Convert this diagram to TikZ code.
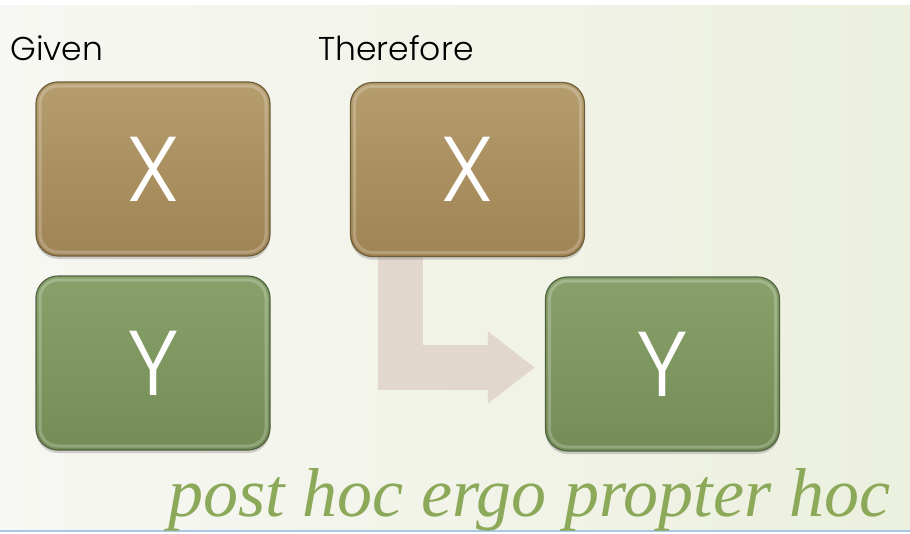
\documentclass[tikz,border=0pt]{standalone}
\usepackage{fontspec}
\setmainfont{Liberation Serif}
\newfontfamily\boxfont{Poppins Light}
\usetikzlibrary{shadows,calc,arrows.meta}
\definecolor{bgL}{HTML}{F7F7F3}
\definecolor{bgR}{HTML}{ECF0DE}
\definecolor{brT}{HTML}{B59D6E}
\definecolor{brB}{HTML}{A08455}
\definecolor{brD}{HTML}{6E5D3A}
\definecolor{grT}{HTML}{88A16B}
\definecolor{grB}{HTML}{748C56}
\definecolor{grD}{HTML}{506240}
\definecolor{arrowc}{HTML}{E1D7CC}
\definecolor{ptxt}{HTML}{8CA95A}
\definecolor{lineblue}{HTML}{A9C8E6}
\pgfdeclarelayer{bg}
\pgfdeclarelayer{background}
\pgfsetlayers{bg,background,main}
\tikzset{
  box/.style={rectangle, rounded corners=22pt, minimum width=234pt, minimum height=174pt,
    inner sep=0pt, text=white, font=\boxfont\fontsize{92}{92}\selectfont, line width=1.2pt,
    drop shadow={opacity=0.35, shadow xshift=0pt, shadow yshift=-3pt},
    path picture={\draw[white, opacity=0.22, line width=3pt, rounded corners=18pt]
      ($(path picture bounding box.north west)+(4,4)$) rectangle
      ($(path picture bounding box.south east)+(-4,-4)$);}},
  xbox/.style={box, top color=brT, bottom color=brB, draw=brD},
  ybox/.style={box, top color=grT, bottom color=grB, draw=grD},
  lbl/.style={anchor=base west, inner sep=0pt, font=\boxfont\fontsize{33}{33}\selectfont, text=black},
  bigarrow/.style={draw=arrowc, line width=45pt, -{Triangle[width=69pt,length=47pt]}}
}
\begin{document}
\begin{tikzpicture}[x=1pt,y=-1pt]
\useasboundingbox (0,0) rectangle (910,533);
\begin{pgfonlayer}{bg}
\fill[white] (0,0) rectangle (910,533);
\shade[left color=bgL, right color=bgR] (0,5) rectangle (910,530);
\draw[lineblue, line width=2pt] (0,531) -- (910,531);
\end{pgfonlayer}

\node[lbl] (given) at (10,60) {Given};
\node[lbl] (therefore) at (318,60) {Therefore};

\node[xbox] (gx) at (153,169) {X};
\node[ybox] (gy) at (153,363) {Y};
\node[xbox] (tx) at (467.5,169.5) {X};
\node[ybox] (ty) at (662.5,364) {Y};

\begin{pgfonlayer}{background}
\draw[bigarrow] ($(tx.south west)+(50.5,-2)$) |- ($(ty.west)+(-10,3.5)$);
\end{pgfonlayer}

\node[anchor=base west, inner sep=0pt, text=ptxt] (phrase) at (168,516)
  {\resizebox{722pt}{48pt}{\itshape post hoc ergo propter hoc}};
\end{tikzpicture}
\end{document}
